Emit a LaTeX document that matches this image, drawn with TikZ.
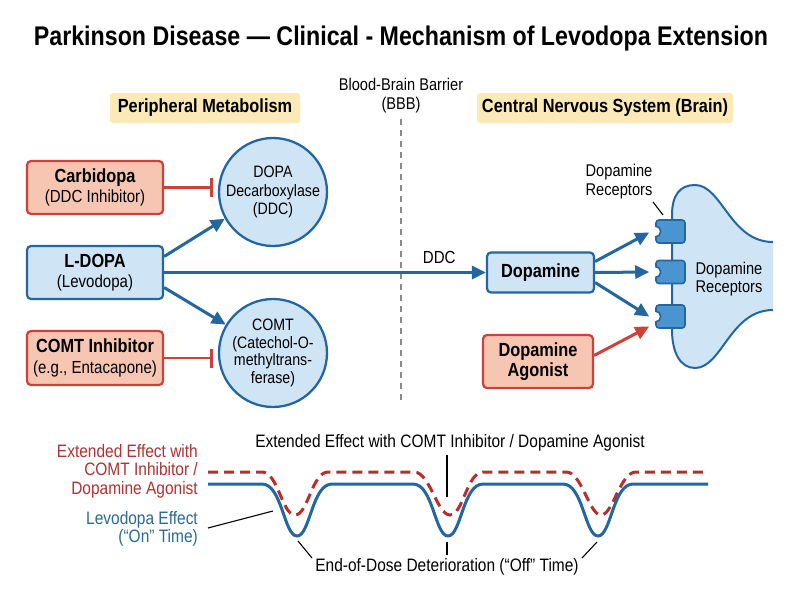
\documentclass[tikz,border=0pt]{standalone}
\usepackage{fontspec}
\setmainfont{Liberation Sans}[FakeStretch=0.86]
\usetikzlibrary{arrows.meta,calc}
\definecolor{bdark}{HTML}{2466A0}
\definecolor{blight}{HTML}{CFE4F5}
\definecolor{bmid}{HTML}{4A95D0}
\definecolor{rdark}{HTML}{D0403A}
\definecolor{rlight}{HTML}{F7C6B2}
\definecolor{rtext}{HTML}{B03232}
\definecolor{ylight}{HTML}{FBEAB7}
\definecolor{bbbgrey}{HTML}{8A8A8A}
\definecolor{btext}{HTML}{2A6A92}
\tikzset{
  redbox/.style={draw=rdark, fill=rlight, rounded corners=4pt, line width=2.2pt, align=center, inner sep=0pt},
  bluebox/.style={draw=bdark, fill=blight, rounded corners=4pt, line width=2.2pt, align=center, inner sep=0pt},
  enzyme/.style={circle, draw=bdark, fill=blight, line width=2.3pt, minimum size=108pt, align=center, inner sep=0pt, font=\fontsize{16.5}{18.5}\selectfont},
  ylabel/.style={fill=ylight, rounded corners=3pt, minimum width=190pt, minimum height=30pt, font=\fontsize{19}{21}\selectfont\bfseries},
  barrow/.style={draw=bdark, line width=3pt, -{Triangle[length=14pt,width=13pt]}},
  rarrow/.style={draw=rdark, line width=3pt, -{Triangle[length=14pt,width=13pt]}},
  inhib/.style={draw=rdark, line width=2.6pt, -{Bar[width=19pt,line width=3pt]}},
  recbox/.style={draw=bdark, fill=bmid, rounded corners=3pt, line width=1.6pt, minimum width=29pt, minimum height=23pt, inner sep=0pt},
  leader/.style={draw=black, line width=1.1pt},
  txt/.style={font=\fontsize{18}{18.5}\selectfont, align=center, inner sep=0pt},
  boxfont/.style={font=\fontsize{17.5}{20.5}\selectfont},
}
\newcommand{\bhead}[1]{{\fontsize{19}{20.5}\selectfont\bfseries #1}}
\begin{document}
\begin{tikzpicture}[x=1pt,y=-1pt]
\useasboundingbox (0,0) rectangle (800,600);
\fill[white] (0,0) rectangle (800,600);

% title
\node[font=\fontsize{27}{30}\selectfont\bfseries, inner sep=0pt] (title) at (401,39) {Parkinson Disease — Clinical - Mechanism of Levodopa Extension};

% section labels
\node[ylabel] (periph) at (205,108) {Peripheral Metabolism};
\node[ylabel, minimum width=256pt] (cns) at (605,108) {Central Nervous System (Brain)};
\node[txt, font=\fontsize{17}{19}\selectfont] (bbb) at (401,96) {Blood-Brain Barrier\\(BBB)};
\coordinate (bbbtop) at (401,119);
\coordinate (bbbbot) at (401,404);
\draw[bbbgrey, line width=1.5pt, dash pattern=on 6pt off 5pt] (bbbtop) -- (bbbbot);

% left boxes
\node[redbox, boxfont, minimum width=136pt, minimum height=53pt] (carb) at (95,187.5)
  {\bhead{Carbidopa}\\(DDC Inhibitor)};
\node[bluebox, boxfont, minimum width=136pt, minimum height=53pt] (ldopa) at (95,272.5)
  {\bhead{L-DOPA}\\(Levodopa)};
\node[redbox, boxfont, minimum width=136pt, minimum height=54pt] (comti) at (95,358)
  {\bhead{COMT Inhibitor}\\(e.g., Entacapone)};

% enzymes
\node[enzyme] (ddc) at (273,192) {DOPA\\Decarboxylase\\(DDC)};
\node[enzyme, font=\fontsize{16.5}{17.8}\selectfont] (comt) at (273,353) {COMT\\(Catechol-O-\\methyltrans-\\ferase)};

% inhibition
\draw[inhib, shorten >=5pt] (carb.east) -- (carb.east -| ddc.west);
\draw[inhib, shorten >=5pt] (comti.east) -- (comti.east -| comt.west);

% metabolism arrows
\draw[barrow] ([yshift=16pt]ldopa.east) -- (ddc.209);
\draw[barrow] ([yshift=-15pt]ldopa.east) -- (comt.149);

% dopamine
\node[bluebox, minimum width=107pt, minimum height=40pt, font=\fontsize{19}{21}\selectfont\bfseries] (dopa) at (540.5,272.5) {Dopamine};
\node[redbox, minimum width=110pt, minimum height=53pt, font=\fontsize{19}{19.5}\selectfont\bfseries] (agon) at (538,361.5) {Dopamine\\Agonist};

\draw[barrow] (ldopa.east) -- (dopa.west) node[pos=0.855, above=7pt, txt, font=\fontsize{17.5}{19}\selectfont] (ddclab) {DDC};

% neuron
\fill[blight] (672,240) -- (672,215) .. controls (672,195) and (680,185) .. (695,185)
  .. controls (722,185) and (730,242) .. (773,242) -- (773,310)
  .. controls (730,310) and (722,368) .. (695,368)
  .. controls (680,368) and (672,352) .. (672,330) -- cycle;
\draw[bdark, line width=2pt] (773,242) .. controls (730,242) and (722,185) .. (695,185)
  .. controls (680,185) and (672,195) .. (672,215) -- (672,330)
  .. controls (672,352) and (680,368) .. (695,368)
  .. controls (722,368) and (730,310) .. (773,310);
\node[txt, font=\fontsize{17}{18.5}\selectfont] (reclab) at (729,279) {Dopamine\\Receptors};

% receptors
\foreach \n/\yy in {r1/231.5, r2/272, r3/316.5}{
  \node[recbox] (\n) at (670.5,\yy) {};
  \fill[white] (\n.west) circle[radius=5.5pt];
  \draw[bdark, line width=1.6pt] ([yshift=5.5pt]\n.west) arc[start angle=90, end angle=-90, radius=5.5pt];
}
\node[txt, font=\fontsize{17}{19}\selectfont] (rectop) at (619,182) {Dopamine\\Receptors};
\coordinate (rl1) at (653,202);
\coordinate (rl2) at (663,215);
\draw[leader] (rl1) -- (rl2);

\draw[barrow] ([yshift=11pt]dopa.east) -- ([xshift=-6pt,yshift=-1pt]r1.west);
\draw[barrow] (dopa.east) -- ([xshift=-6pt]r2.west);
\draw[barrow] ([yshift=-10pt]dopa.east) -- ([xshift=-6pt,yshift=0pt]r3.west);
\draw[rarrow] ([yshift=6pt]agon.east) -- ([xshift=-6pt,yshift=-10pt]r3.west);

% effect curves
\draw[rtext!90!red, line width=3pt, dash pattern=on 10pt off 6pt]
  (208,472) -- (262,472) .. controls (278,472) and (282,515) .. (295,515)
  .. controls (308,515) and (312,472) .. (328,472) -- (414,472)
  .. controls (430,472) and (437,515) .. (450,515)
  .. controls (463,515) and (467,472) .. (483,472) -- (566,472)
  .. controls (582,472) and (589,515) .. (601,515)
  .. controls (613,515) and (620,472) .. (636,472) -- (708,472);
\draw[bdark, line width=3pt]
  (208,484) -- (262,484) .. controls (282,484) and (284,536) .. (297,536)
  .. controls (310,536) and (312,484) .. (332,484) -- (413,484)
  .. controls (433,484) and (435,536) .. (448,536)
  .. controls (461,536) and (463,484) .. (483,484) -- (563,484)
  .. controls (583,484) and (585,536) .. (598,536)
  .. controls (611,536) and (613,484) .. (633,484) -- (708,484);

\node[txt, align=right, anchor=east, text=rtext] (extlab) at (198,471) {Extended Effect with\\COMT Inhibitor /\\Dopamine Agonist};
\node[txt, align=right, anchor=east, text=btext] (levlab) at (198,529) {Levodopa Effect\\(“On” Time)};
\node[txt] (exttop) at (450,443) {Extended Effect with COMT Inhibitor / Dopamine Agonist};
\node[txt] (offlab) at (447,567) {End-of-Dose Deterioration (“Off” Time)};

\coordinate (lv1) at (208,528);
\coordinate (lv2) at (273,511);
\draw[leader] (lv1) -- (lv2);
\coordinate (et1) at (447,455);
\coordinate (et2) at (447,497);
\draw[leader] (et1) -- (et2);
\coordinate (o1a) at (298,541);
\coordinate (o1b) at (312,558);
\draw[leader] (o1a) -- (o1b);
\coordinate (o2a) at (447,542);
\coordinate (o2b) at (447,555);
\draw[leader] (o2a) -- (o2b);
\coordinate (o3a) at (597,542);
\coordinate (o3b) at (582,558);
\draw[leader] (o3a) -- (o3b);
\end{tikzpicture}
\end{document}
